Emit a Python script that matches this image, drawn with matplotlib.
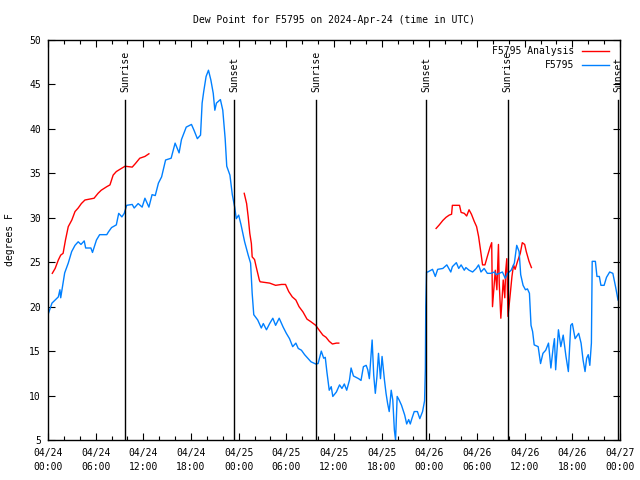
import numpy as np
import matplotlib
matplotlib.use("Agg")
import matplotlib.pyplot as plt

# ---- data (hours since 2024-04-24 00:00 UTC, dew point in F) ----
obs_hours = [0.0, 0.5, 1.3, 1.5, 1.6, 2.1, 2.55, 2.98, 3.4, 3.8, 4.15, 4.56, 4.74, 5.4, 5.6, 6.1,
             6.5, 7.4, 7.6, 8.0, 8.6, 8.9, 9.3, 9.6, 9.9, 10.6, 10.85, 11.35, 11.85, 12.2, 12.7,
             13.1, 13.5, 13.9, 14.3, 14.8, 15.5, 16.0, 16.5, 16.8, 17.4, 18.06, 18.4, 18.8, 19.2,
             19.4, 19.6, 19.9, 20.2, 20.5, 20.8, 21.0, 21.2, 21.7, 22.0, 22.3, 22.5, 22.9, 23.2,
             23.5, 23.7, 24.0, 24.3, 24.75, 25.2, 25.5, 25.7, 25.9, 26.4, 26.85, 27.1, 27.5, 27.9,
             28.3, 28.65, 29.1, 29.6, 30.0, 30.4, 30.8, 31.2, 31.5, 31.9, 32.3, 32.9, 33.1, 33.7,
             34.0, 34.4, 34.7, 34.9, 35.1, 35.4, 35.65, 35.85, 36.3, 36.7, 37.0, 37.3, 37.6, 37.95,
             38.15, 38.45, 39.1, 39.4, 39.7, 40.05, 40.25, 40.45, 40.8, 41.0, 41.2, 41.4, 41.6,
             41.85, 42.05, 42.35, 42.55, 42.75, 42.95, 43.2, 43.4, 43.6, 43.75, 43.95, 44.2, 44.5,
             44.9, 45.15, 45.4, 45.6, 45.8, 46.1, 46.5, 46.8, 47.15, 47.4, 47.5, 47.55, 47.65,
             47.8, 48.4, 48.75, 49.05, 49.7, 50.2, 50.7, 50.9, 51.4, 51.7, 52.0, 52.4, 52.6, 53.0,
             53.45, 53.9, 54.2, 54.5, 54.9, 55.3, 55.75, 56.2, 56.4, 56.8, 57.2, 57.55, 57.85,
             58.3, 58.7, 59.0, 59.3, 59.5, 59.8, 60.1, 60.35, 60.6, 60.8, 61.0, 61.2, 61.7, 62.0,
             62.3, 62.65, 63.0, 63.3, 63.6, 63.75, 63.9, 64.25, 64.55, 64.85, 65.2, 65.5, 65.8,
             66.0, 66.35, 66.8, 67.1, 67.35, 67.6, 67.8, 68.0, 68.2, 68.4, 68.5, 68.9, 69.1, 69.4,
             69.6, 70.0, 70.3, 70.7, 71.1, 71.45, 71.75]
obs_values = [19.1, 20.4, 21.1, 21.9, 21.0, 23.8, 24.9, 26.2, 26.9, 27.3, 27.0, 27.4, 26.6, 26.6, 26.1, 27.5,
              28.1, 28.1, 28.4, 28.9, 29.2, 30.5, 30.1, 30.5, 31.4, 31.5, 31.1, 31.6, 31.2, 32.2, 31.2,
              32.6, 32.5, 33.9, 34.6, 36.5, 36.7, 38.4, 37.3, 38.8, 40.2, 40.5, 39.8, 38.9, 39.3,
              42.9, 44.2, 45.9, 46.6, 45.5, 44.0, 42.1, 42.9, 43.3, 42.1, 38.9, 35.8, 34.8, 32.6,
              31.2, 29.9, 30.3, 29.2, 27.3, 25.8, 24.9, 21.5, 19.1, 18.5, 17.6, 18.1, 17.4, 18.1,
              18.7, 17.9, 18.7, 17.7, 17.0, 16.4, 15.5, 15.9, 15.3, 15.1, 14.6, 14.0, 13.8, 13.55,
              13.6, 15.0, 14.2, 14.3, 12.7, 10.6, 11.0, 9.9, 10.4, 11.2, 10.8, 11.3, 10.6, 11.75,
              13.1, 12.2, 11.9, 11.7, 13.25, 13.4, 12.9, 11.9, 16.25, 12.3, 10.25, 12.1, 14.75,
              11.9, 14.4, 11.75, 10.25, 9.1, 8.2, 10.6, 9.5, 6.1, 5.0, 9.9, 9.5, 8.9,
              7.8, 6.8, 7.3, 6.8, 7.4, 8.2, 8.2, 7.4, 8.2, 9.4, 13.0, 20.0, 23.9,
              23.9, 24.2, 23.4, 24.2, 24.3, 24.7, 23.9, 24.5, 24.95, 24.3, 24.7, 24.1, 24.4, 24.1,
              23.9, 24.3, 24.7, 23.9, 24.3, 23.75, 23.75, 23.9, 23.6, 23.75, 23.9, 23.2, 23.75,
              24.1, 24.9, 26.9, 26.2, 23.6, 22.4, 21.9, 22.0, 21.5, 17.9, 17.2, 15.7, 15.5, 13.6,
              14.75, 15.1, 15.9, 13.1, 15.5, 16.4, 12.9, 17.4, 15.5, 16.8, 14.4, 12.7, 17.9,
              18.1, 16.4, 17.0, 15.9, 14.0, 12.7, 14.2, 14.6, 13.4, 15.9, 25.1, 25.1, 23.4, 23.4,
              22.4, 22.4, 23.3, 23.9, 23.75, 22.2, 20.75]

ana_hours = [0.54, 0.9, 1.3, 1.6, 1.9, 2.2, 2.55, 3.0, 3.4, 3.8, 4.2, 4.65, 5.8, 6.3, 6.7, 7.4, 7.8,
             8.2, 8.6, 9.05, 9.7, 10.6, 11.0, 11.55, 12.2, 12.7,
             np.nan,
             24.7, 25.0, 25.2, 25.4, 25.6, 25.7, 26.0, 26.2, 26.6, 26.7, 27.5, 27.9, 28.65, 29.4,
             29.9, 30.3, 30.75, 31.2, 31.6, 32.1, 32.6, 33.1, 33.7, 34.1, 34.6, 35.0, 35.4, 35.8,
             36.3, 36.6,
             np.nan,
             48.85, 49.25, 49.7, 50.1, 50.5, 50.8, 50.9, 51.8, 52.0, 52.4, 52.7, 53.0, 53.3, 53.65,
             53.95, 54.2, 54.5, 54.7, 55.0, 55.35, 55.65, 55.85, 55.95, 56.3, 56.5, 56.7, 56.8,
             57.0, 57.15, 57.3, 57.5, 57.6, 57.75, 57.9, 58.15, 58.4, 58.6, 58.8, 59.1, 59.45,
             59.7, 60.0, 60.2, 60.55, 60.85]
ana_values = [23.75, 24.3, 25.25, 25.8, 26.0, 27.5, 29.0, 29.75, 30.7, 31.1, 31.6, 32.0, 32.2, 32.75,
              33.1, 33.5, 33.7, 34.8, 35.2, 35.45, 35.8, 35.7, 36.1, 36.7, 36.9, 37.2,
              np.nan,
              32.75, 31.6, 30.1, 28.25, 27.1, 25.6, 25.3, 24.5, 23.0, 22.8, 22.7, 22.65, 22.4, 22.5,
              22.5, 21.7, 21.1, 20.75, 20.0, 19.4, 18.6, 18.3, 17.9, 17.4, 16.8, 16.55, 16.1, 15.8,
              15.9, 15.9,
              np.nan,
              28.8, 29.2, 29.7, 30.05, 30.3, 30.4, 31.4, 31.4, 30.6, 30.5, 30.2, 30.9, 30.4, 29.6,
              29.0, 27.9, 26.0, 24.7, 24.7, 25.8, 26.7, 27.2, 20.0, 24.1, 21.9, 27.0, 22.6,
              18.7, 20.75, 23.0, 21.0, 23.9, 25.4, 18.9, 21.1, 23.4, 24.7, 24.2, 25.1, 26.0,
              27.2, 27.0, 26.2, 25.1, 24.4]

sun_events = ["Sunrise", "Sunset", "Sunrise", "Sunset", "Sunrise", "Sunset"]
sun_hours = [9.75, 23.4, 33.72, 47.6, 57.85, 71.75]

tick_hours = [0, 6, 12, 18, 24, 30, 36, 42, 48, 54, 60, 66, 72]
tick_labels = ["04/24\n00:00", "04/24\n06:00", "04/24\n12:00", "04/24\n18:00",
               "04/25\n00:00", "04/25\n06:00", "04/25\n12:00", "04/25\n18:00",
               "04/26\n00:00", "04/26\n06:00", "04/26\n12:00", "04/26\n18:00",
               "04/27\n00:00"]

title = "Dew Point for F5795 on 2024-Apr-24 (time in UTC)"
ylabel = "degrees F"

# ---- plot ----
FONT = "DejaVu Sans Mono"
FS = 7
plt.rcParams['font.family'] = [FONT, 'DejaVu Sans']
plt.rcParams['font.size'] = FS

fig = plt.figure(figsize=(6.4, 4.8), dpi=100)
ax = fig.add_axes([48/640, 40/480, (620-48)/640, 400/480])

ax.plot(ana_hours, ana_values, color="#ff0000", lw=1.0, label="F5795 Analysis")
ax.plot(obs_hours, obs_values, color="#0080ff", lw=1.0, label="F5795")

for name, h in zip(sun_events, sun_hours):
    ax.plot([h, h], [5, 43.25], color="black", lw=1.0)
    ax.text(h, 44.2, name, rotation=90, ha="center", va="bottom", fontsize=FS)

ax.set_xlim(0, 72)
ax.set_ylim(5, 50)
ax.set_xticks(tick_hours)
ax.set_xticklabels(tick_labels, linespacing=1.45)
ax.set_xticks(np.arange(0, 73, 2), minor=True)
ax.set_yticks(np.arange(5, 51, 5))
ax.tick_params(axis="both", which="major", direction="in", length=5, width=0.8,
               top=True, right=True, labelsize=FS, pad=5)
ax.tick_params(axis="x", which="major", pad=6)
ax.tick_params(axis="both", which="minor", direction="in", length=3, width=0.8,
               top=True, right=True)
for s in ax.spines.values():
    s.set_linewidth(1.0)

ax.set_title(title, fontsize=FS, pad=12)
ax.set_ylabel(ylabel, fontsize=FS, labelpad=10)

ax.legend(loc="upper right", bbox_to_anchor=(0.984, 0.99), frameon=False,
          markerfirst=False, fontsize=FS, handlelength=2.8, borderaxespad=0.0,
          borderpad=0.2, labelspacing=0.45, handletextpad=0.8)

fig.savefig("out.png", dpi=100)
